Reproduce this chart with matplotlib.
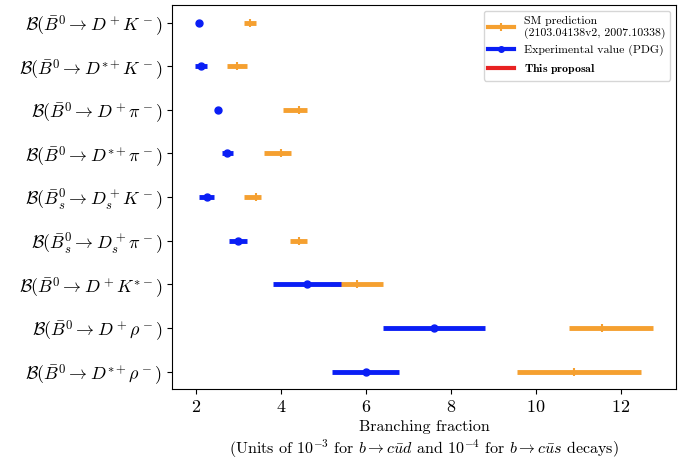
import numpy as np
import matplotlib
matplotlib.use('Agg')
import matplotlib.pyplot as plt
from matplotlib.lines import Line2D

plt.rcParams['font.family'] = 'serif'
plt.rcParams['font.serif'] = ['cmr10', 'DejaVu Serif']
plt.rcParams['mathtext.fontset'] = 'cm'
plt.rcParams['axes.formatter.use_mathtext'] = True
plt.rcParams['axes.unicode_minus'] = False

labels = [
    r'$\mathcal{B}(\bar{B}^0 \to D^+ K^-)$',
    r'$\mathcal{B}(\bar{B}^0 \to D^{*+} K^-)$',
    r'$\mathcal{B}(\bar{B}^0 \to D^+ \pi^-)$',
    r'$\mathcal{B}(\bar{B}^0 \to D^{*+} \pi^-)$',
    r'$\mathcal{B}(\bar{B}^0_s \to D^+_s K^-)$',
    r'$\mathcal{B}(\bar{B}^0_s \to D^+_s \pi^-)$',
    r'$\mathcal{B}(\bar{B}^0 \to D^+ K^{*-})$',
    r'$\mathcal{B}(\bar{B}^0 \to D^+ \rho^-)$',
    r'$\mathcal{B}(\bar{B}^0 \to D^{*+} \rho^-)$',
]

# SM prediction (asymmetric errors)
sm_val = [3.27, 2.96, 4.43, 4.00, 3.41, 4.43, 5.78, 11.56, 10.90]
sm_lo = [0.14, 0.23, 0.39, 0.40, 0.28, 0.22, 0.62, 0.79, 1.35]
sm_hi = [0.14, 0.24, 0.19, 0.24, 0.13, 0.19, 0.62, 1.20, 1.57]

# experimental value (PDG)
exp_val = [2.06, 2.12, 2.51, 2.74, 2.25, 2.99, 4.62, 7.60, 6.00]
exp_err = [0.06, 0.14, 0.07, 0.13, 0.17, 0.22, 0.80, 1.20, 0.79]

ORANGE = '#f5a030'
BLUE = '#0a1ef5'
RED = '#e82222'

y = np.arange(len(labels))

fig = plt.figure(figsize=(6.78, 4.67), dpi=100)
ax = fig.add_axes([0.254, 0.167, 0.743, 0.822])

ax.errorbar(sm_val, y, xerr=[sm_lo, sm_hi], fmt='|', color=ORANGE,
            elinewidth=3.5, ms=6, mew=1.5)
ax.errorbar(exp_val, y, xerr=exp_err, fmt='o', color=BLUE,
            elinewidth=3.5, ms=5)

ax.set_yticks(y)
ax.set_yticklabels(labels, fontsize=13)
ax.invert_yaxis()
ax.set_xticks([2, 4, 6, 8, 10, 12])
ax.tick_params(axis='x', labelsize=13)
ax.set_xlabel('Branching fraction\n(Units of $10^{-3}$ for $b \\to c\\bar{u}d$ and '
              '$10^{-4}$ for $b \\to c\\bar{u}s$ decays)', fontsize=11.5)

handles = [
    Line2D([], [], color=ORANGE, lw=3, marker='|', ms=6, mew=1.5),
    Line2D([], [], color=BLUE, lw=3, marker='o', ms=4),
    Line2D([], [], color=RED, lw=3),
]
names = ['SM prediction\n(2103.04138v2, 2007.10338)',
         'Experimental value (PDG)',
         r'$\mathbf{This\ proposal}$']
ax.legend(handles, names, loc='upper right', fontsize=8.5, handlelength=2.2)

fig.savefig('out.png', dpi=100)
